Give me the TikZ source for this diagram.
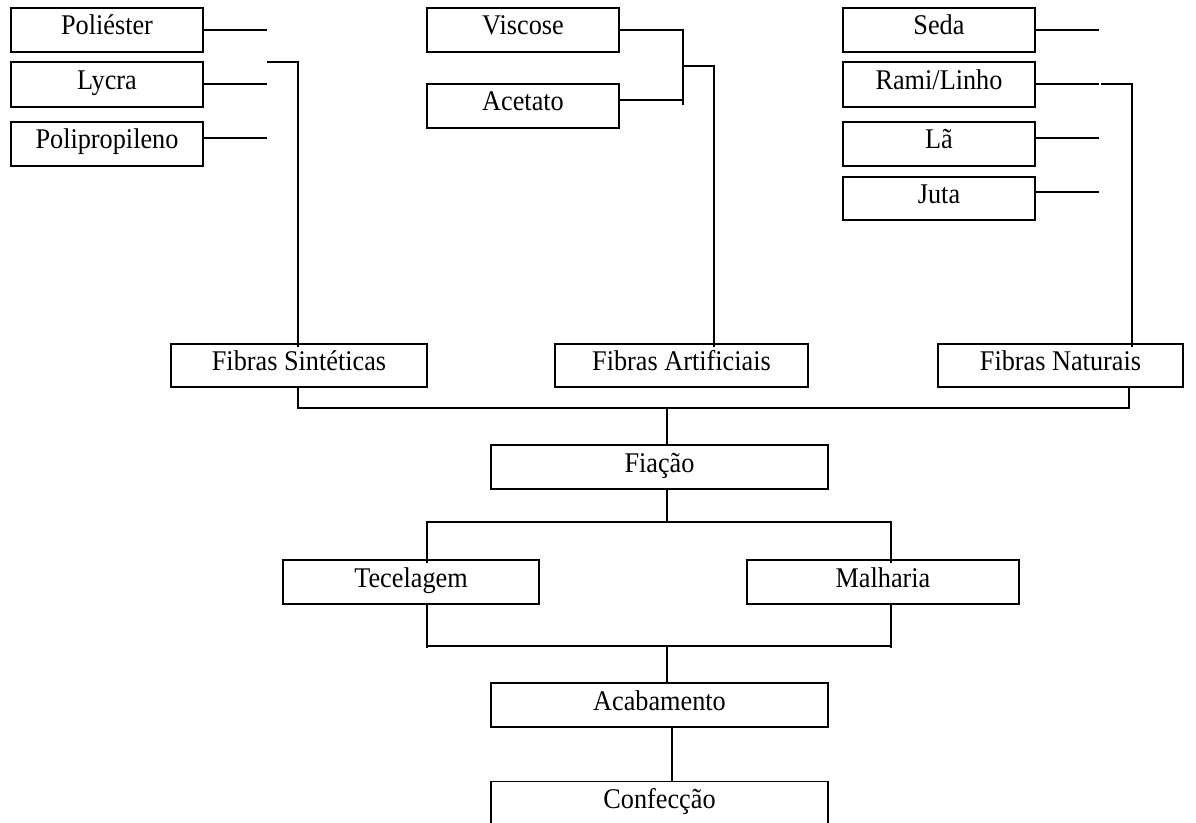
\documentclass[tikz,border=0pt]{standalone}
\usepackage{fontspec}
\setmainfont{Liberation Serif}[FakeStretch=0.92]
\begin{document}
\begin{tikzpicture}[x=0.75pt,y=-0.75pt,
  line width=1.1pt,
  box/.style={draw, rectangle, inner sep=0pt, minimum height=33pt,
    text height=10pt, text depth=2.5pt,
    font=\fontsize{21.4}{24}\selectfont},
  small/.style={box, minimum width=144pt},
  wide/.style={box, minimum width=192pt},
  big/.style={box, minimum width=252.75pt},
  conn/.style={line width=1.1pt}]
\useasboundingbox (0,0) rectangle (1196,823);
\clip (0,0) rectangle (1196,823);
% top row boxes
\node[small] (poli) at (107,30) {Poliéster};
\node[small, minimum height=33.75pt] (lycra) at (107,84.5) {Lycra};
\node[small] (pp) at (107,144) {Polipropileno};
\node[small] (visc) at (523,30) {Viscose};
\node[small] (acet) at (523,106) {Acetato};
\node[small] (seda) at (939,30) {Seda};
\node[small, minimum height=33.75pt] (rami) at (939,84.5) {Rami/Linho};
\node[small] (la) at (939,144) {Lã};
\node[small, minimum height=32.25pt] (juta) at (939,198.5) {Juta};
% fibre groups
\node[wide, minimum height=32.25pt] (fs) at (299,365.5) {Fibras Sintéticas};
\node[box, minimum width=189.75pt, minimum height=32.25pt] (fa) at (681.5,365.5) {Fibras Artificiais};
\node[box, minimum width=183.75pt, minimum height=32.25pt] (fn) at (1060.5,365.5) {Fibras Naturais};
% process chain
\node[big] (fia) at (659.5,467) {Fiação};
\node[wide] (tec) at (411,582) {Tecelagem};
\node[box, minimum width=204pt] (mal) at (883,582) {Malharia};
\node[big] (acab) at (659.5,705) {Acabamento};
\node[big] (conf) at (659.5,803.5) {Confecção};
% free ends / junctions
\coordinate (e1) at (267,30);
\coordinate (e2) at (267,84);
\coordinate (e3) at (267,138);
\coordinate (sj) at (267,62);
\coordinate (sv) at (298,347);
\coordinate (av1) at (683,30);
\coordinate (av2) at (683,105);
\coordinate (aj) at (683,66);
\coordinate (av) at (714,347);
\coordinate (n1) at (1099,30);
\coordinate (n2) at (1099,84);
\coordinate (n3) at (1099,138);
\coordinate (n4) at (1099,192);
\coordinate (nj) at (1101,84);
\coordinate (nv) at (1132,347);
\coordinate (b1) at (298,408);
\coordinate (b2) at (1129,408);
\coordinate (fiaT) at (667,445);
\coordinate (m1) at (427,522);
\coordinate (m2) at (891,522);
\coordinate (l1) at (427,646);
\coordinate (l2) at (891,646);
\coordinate (acT) at (667,685);
% synthetic branch
\draw[conn] (e1 -| poli.east) -- (e1);
\draw[conn] (e2 -| lycra.east) -- (e2);
\draw[conn] (e3 -| pp.east) -- (e3);
\draw[conn] (sj) -| (sv);
% artificial branch
\draw[conn] (av1 -| visc.east) -- (av1) -- (av2);
\draw[conn] (acet.east |- 0,100) -- (av2 |- 0,100);
\draw[conn] (aj) -| (av);
% natural branch
\draw[conn] (n1 -| seda.east) -- (n1);
\draw[conn] (n2 -| rami.east) -- (n2);
\draw[conn] (n3 -| la.east) -- (n3);
\draw[conn] (n4 -| juta.east) -- (n4);
\draw[conn] (nj) -| (nv);
% collect fibres
\draw[conn] (b1 |- fs.south) -- (b1) -- (b2) -- (b2 |- fn.south);
\draw[conn] (fiaT |- b1) -- (fiaT |- fia.north);
% spinning to weaving/knitting
\draw[conn] (fiaT |- fia.south) -- (fiaT |- m1);
\draw[conn] (m1 |- 0,563) -- (m1) -- (m2) -- (m2 |- 0,563);
% to finishing
\draw[conn] (l1 |- tec.south) -- (l1 |- 0,648);
\draw[conn] (l2 |- mal.south) -- (l2 |- 0,648);
\draw[conn] (l1) -- (l2);
\draw[conn] (acT |- l1) -- (acT |- acab.north);
\draw[conn] (672,0 |- acab.south) -- (672,0 |- conf.north);
\end{tikzpicture}
\end{document}
